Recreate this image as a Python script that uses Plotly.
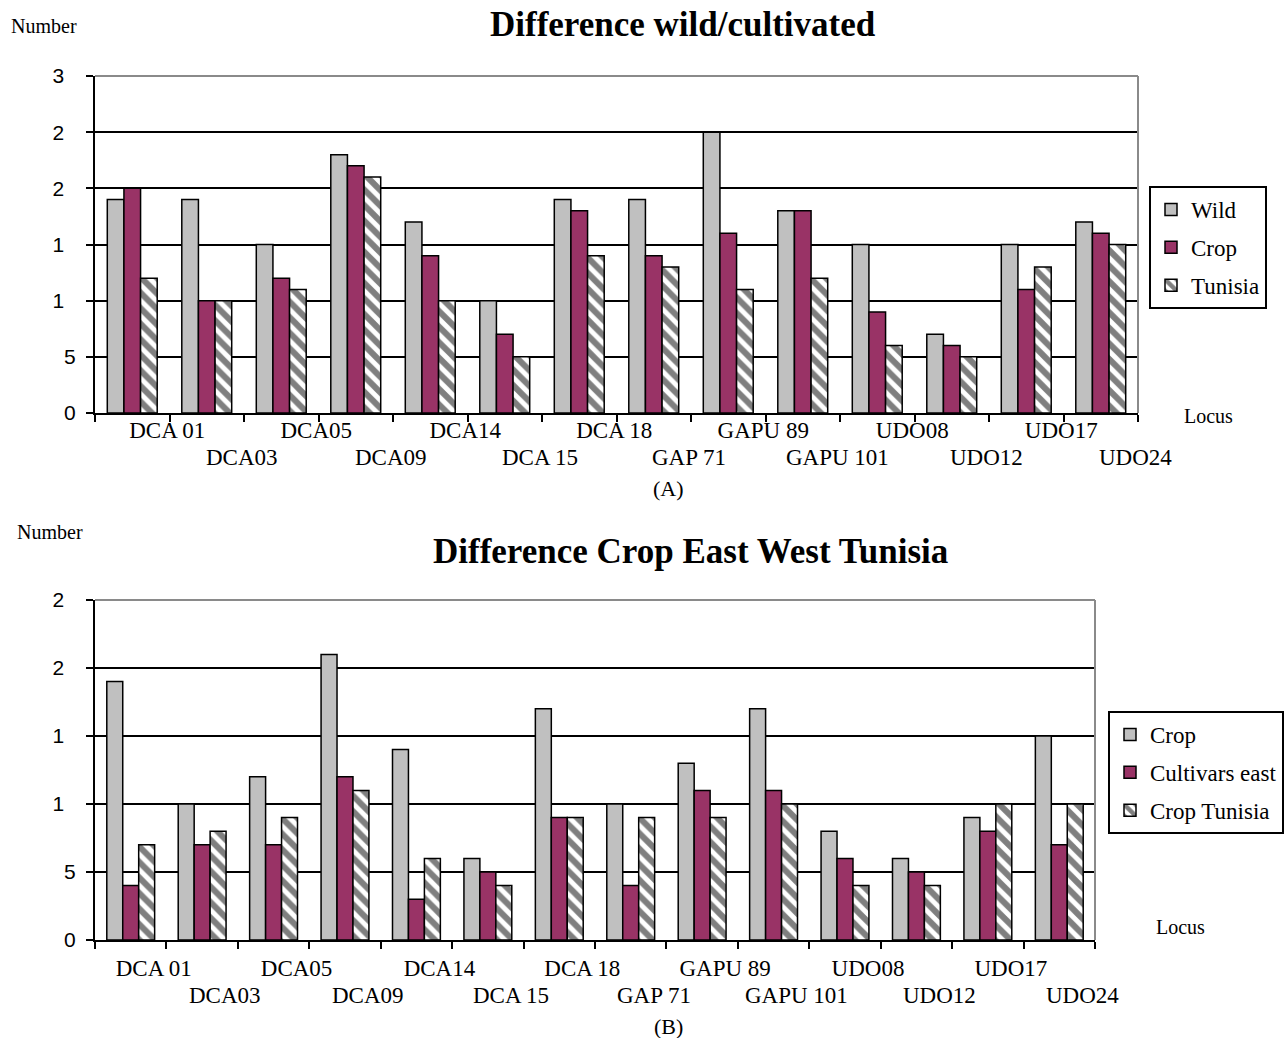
import plotly.graph_objects as go

loci = ["DCA 01", "DCA03", "DCA05", "DCA09", "DCA14", "DCA 15", "DCA 18",
        "GAP 71", "GAPU 89", "GAPU 101", "UDO08", "UDO12", "UDO17", "UDO24"]

# Panel A: Difference wild/cultivated
wild_a = [19, 19, 15, 23, 17, 10, 19, 19, 25, 18, 15, 7, 15, 17]
crop_a = [20, 10, 12, 22, 14, 7, 18, 14, 16, 18, 9, 6, 11, 16]
tunisia_a = [12, 10, 11, 21, 10, 5, 14, 13, 11, 12, 6, 5, 13, 15]

# Panel B: Difference Crop East West Tunisia
crop_b = [19, 10, 12, 21, 14, 6, 17, 10, 13, 17, 8, 6, 9, 15]
cult_east_b = [4, 7, 7, 12, 3, 5, 9, 4, 11, 11, 6, 5, 8, 7]
crop_tun_b = [7, 8, 9, 11, 6, 4, 9, 9, 9, 10, 4, 4, 10, 10]

NB = "\u00a0\u00a0"
ytick_vals_a = [0, 5, 10, 15, 20, 25, 30]
ytick_text_a = ["0", "5", "1" + NB, "1" + NB, "2" + NB, "2" + NB, "3" + NB]
ytick_vals_b = [0, 5, 10, 15, 20, 25]
ytick_text_b = ["0", "5", "1" + NB, "1" + NB, "2" + NB, "2" + NB]

GREY = "#C0C0C0"
MAROON = "#993366"
SERIF = "Liberation Serif, Times New Roman, serif"
SANS = "Liberation Sans, Arial, sans-serif"

# first row of locus labels on the axis, second row as annotations
row1_text = [n if i % 2 == 0 else "" for i, n in enumerate(loci)]
row2_names = [n for i, n in enumerate(loci) if i % 2 == 1]

FW = 1285
FH = 1038


def px(x):
    return x / FW


def py(y):
    return 1 - y / FH


fig = go.Figure()


def add_bars(vals, name, xa, ya, legend, kind, grp):
    line = dict(color="black", width=1.5)
    if kind == "grey":
        marker = dict(color=GREY, line=line)
    elif kind == "maroon":
        marker = dict(color=MAROON, line=line)
    else:
        marker = dict(color="white", line=line,
                      pattern=dict(shape="\\", fgcolor="black", bgcolor="white",
                                   size=11, solidity=0.55))
    fig.add_trace(go.Bar(x=loci, y=vals, name=name, xaxis=xa, yaxis=ya,
                         legend=legend, legendgroup=grp, marker=marker))


add_bars(wild_a, "Wild", "x", "y", "legend", "grey", "a1")
add_bars(crop_a, "Crop", "x", "y", "legend", "maroon", "a2")
add_bars(tunisia_a, "Tunisia", "x", "y", "legend", "pattern", "a3")
add_bars(crop_b, "Crop", "x2", "y2", "legend2", "grey", "b1")
add_bars(cult_east_b, "Cultivars east", "x2", "y2", "legend2", "maroon", "b2")
add_bars(crop_tun_b, "Crop Tunisia", "x2", "y2", "legend2", "pattern", "b3")

LABEL_FONT = dict(family=SERIF, size=23, color="black")
XRANGE = [-0.5, len(loci) - 0.5]

xaxis_common = dict(type="category", showline=True, linecolor="black", linewidth=2,
                    ticks="outside", tickson="boundaries", ticklen=7, tickwidth=2,
                    tickcolor="black", tickvals=loci, ticktext=row1_text,
                    tickangle=0, tickfont=LABEL_FONT, range=XRANGE,
                    showgrid=False, fixedrange=True, automargin=False)

yaxis_common = dict(showline=True, linecolor="black", linewidth=2, ticks="outside",
                    ticklen=7, tickwidth=2, tickcolor="black",
                    tickfont=dict(family=SANS, size=21, color="black"),
                    showgrid=True, gridcolor="black", gridwidth=2, zeroline=False,
                    ticklabelstandoff=6, automargin=False, fixedrange=True)

legend_common = dict(xanchor="left", yanchor="top", bordercolor="black", borderwidth=2,
                     bgcolor="white", font=dict(family=SERIF, size=23, color="black"),
                     tracegroupgap=5, itemwidth=30)

SHIFT_A = 35
SHIFT_B = 23

fig.update_layout(
    width=FW, height=FH,
    margin=dict(l=0, r=0, t=0, b=0, autoexpand=False),
    paper_bgcolor="white", plot_bgcolor="white",
    barmode="group", bargap=0.33, bargroupgap=0,
    xaxis=dict(domain=[px(95), px(1138)], anchor="y", ticklabelshift=SHIFT_A,
               ticklabelstandoff=-5, **xaxis_common),
    yaxis=dict(domain=[py(413), py(76)], anchor="x", range=[0, 30],
               tickvals=ytick_vals_a, ticktext=ytick_text_a, **yaxis_common),
    xaxis2=dict(domain=[px(95), px(1095)], anchor="y2", ticklabelshift=SHIFT_B,
                ticklabelstandoff=6, **xaxis_common),
    yaxis2=dict(domain=[py(940), py(600)], anchor="x2", range=[0, 25],
                tickvals=ytick_vals_b, ticktext=ytick_text_b, **yaxis_common),
    legend=dict(x=px(1149), y=py(186), **legend_common),
    legend2=dict(x=px(1108), y=py(711), **legend_common),
    font=dict(family=SERIF, color="black"),
)

# grey frame lines (top and right) of each plot area
for (x0, x1, y0, y1) in [(95, 1138, 413, 76), (95, 1095, 940, 600)]:
    fig.add_shape(type="line", xref="paper", yref="paper",
                  x0=px(x1), x1=px(x1), y0=py(y0), y1=py(y1),
                  line=dict(color="#8a8a8a", width=2))
    fig.add_shape(type="line", xref="paper", yref="paper",
                  x0=px(x0), x1=px(x1), y0=py(y1), y1=py(y1),
                  line=dict(color="#8a8a8a", width=2))

# second row of locus labels
for xa, yrow, shift in [("x", 457, SHIFT_A), ("x2", 995, SHIFT_B)]:
    for name in row2_names:
        fig.add_annotation(text=name, x=name, xref=xa, y=py(yrow), yref="paper",
                           xanchor="center", yanchor="middle", xshift=shift,
                           showarrow=False, font=LABEL_FONT)

annots = [
    dict(text="<b>Difference wild/cultivated</b>", x=683, y=25, size=35),
    dict(text="<b>Difference Crop East West Tunisia</b>", x=690, y=551, size=35),
    dict(text="Number", x=44, y=26, size=20),
    dict(text="Number", x=50, y=532, size=20),
    dict(text="Locus", x=1208, y=416, size=20),
    dict(text="Locus", x=1180, y=927, size=20),
    dict(text="(A)", x=668, y=489, size=22),
    dict(text="(B)", x=668, y=1026, size=22),
]
for a in annots:
    fig.add_annotation(text=a["text"], x=px(a["x"]), y=py(a["y"]), xref="paper",
                       yref="paper", xanchor="center", yanchor="middle",
                       showarrow=False,
                       font=dict(family=SERIF, size=a["size"], color="black"))

fig.write_html("out.html", config={"displayModeBar": False},
               post_script="document.body.style.margin='0';"
                           "document.body.style.overflow='hidden';")
